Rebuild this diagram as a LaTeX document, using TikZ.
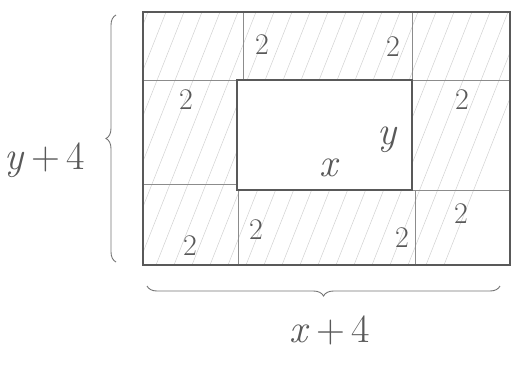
\documentclass[tikz,border=0pt]{standalone}
\usetikzlibrary{decorations.pathreplacing}
\begin{document}
\begin{tikzpicture}[x=1pt,y=-1pt,
  frame/.style={draw=black!65, line width=1.4pt},
  grid/.style={draw=black!45, line width=1pt},
  hatch/.style={draw=black!18, line width=0.5pt},
  brc/.style={draw=black!55, line width=0.9pt, decorate, decoration={brace, amplitude=10pt}},
  two/.style={text=black!65, font=\fontsize{30}{30}\selectfont},
  big/.style={text=black!65, font=\fontsize{40}{40}\selectfont}]
\useasboundingbox (0,0) rectangle (513,368);
% hatching
\begin{scope}[even odd rule]
  \clip (143,12) rectangle (510,265) (237,80) rectangle (412,190);
  \foreach \t in {40,58,...,560} {
    \draw[hatch] (\t-100,265) -- (\t,12);
  }
\end{scope}
% grid lines
\coordinate (l1) at (143,80);  \coordinate (r1) at (510,80);
\coordinate (l2) at (143,184); \coordinate (r2) at (510,190);
\draw[grid] (l1) -- (r1);
\draw[grid] (l2) -- (237,184);
\draw[grid] (412,190) -- (r2);
\coordinate (t1) at (243,12); \coordinate (t1b) at (243,80);
\coordinate (t2) at (412,12); \coordinate (t2b) at (412,80);
\draw[grid] (t1) -- (t1b);
\draw[grid] (t2) -- (t2b);
\coordinate (b1) at (238,190); \coordinate (b1b) at (238,265);
\coordinate (b2) at (415,190); \coordinate (b2b) at (415,265);
\draw[grid] (b1) -- (b1b);
\draw[grid] (b2) -- (b2b);
% inner rectangle
\draw[frame] (237,80) rectangle (412,190);
% outer rectangle
\node[frame, minimum width=367pt, minimum height=253pt, inner sep=0pt] (outer) at (326.5,138.5) {};
% labels 2
\node[two] (a1) at (262,45) {2};
\node[two] (a2) at (393,47) {2};
\node[two] (a3) at (186,100) {2};
\node[two] (a4) at (462,100) {2};
\node[two] (a5) at (190,246) {2};
\node[two] (a6) at (256,230) {2};
\node[two] (a7) at (402,238) {2};
\node[two] (a8) at (461,214) {2};
\node[big] (lx) at (330,168) {\textit{x}};
\node[big] (ly) at (388,140) {\textit{y}};
% braces
\coordinate (lb1) at (116,262);
\coordinate (lb2) at (116,15);
\draw[brc] (lb1) -- (lb2);
\coordinate (bb1) at (500,286);
\coordinate (bb2) at (147,286);
\draw[brc] (bb1) -- (bb2);
\node[big] (ylab) at (45,160) {\textit{y}\,+\,4};
\node[big] (xlab) at (330,330) {\textit{x}\,+\,4};
\end{tikzpicture}
\end{document}
